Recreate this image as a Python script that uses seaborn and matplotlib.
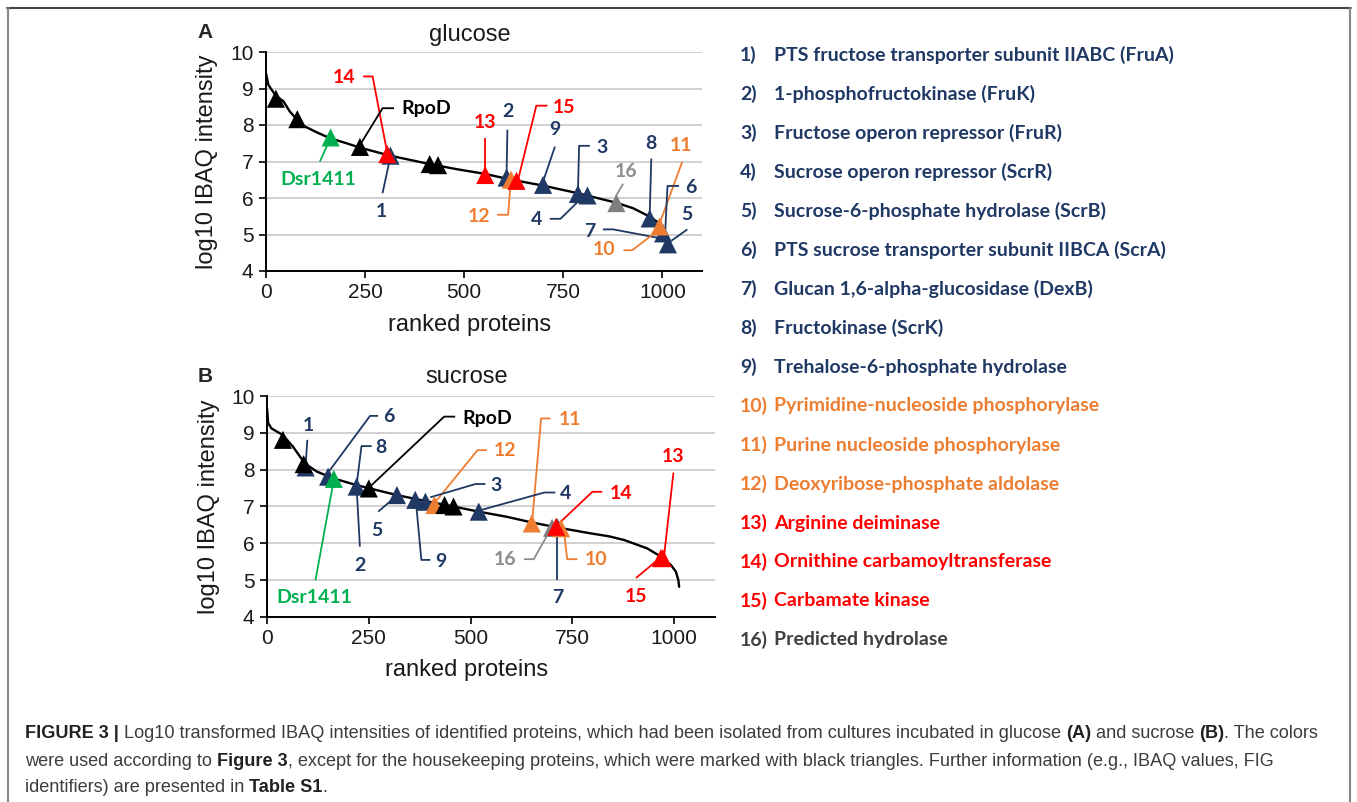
import matplotlib
matplotlib.use("Agg")
import matplotlib.pyplot as plt
import seaborn as sns
import pandas as pd
import numpy as np
from matplotlib.lines import Line2D

W, H = 1357, 802

# ---------------- data ----------------
# ranked-protein curves
glc_rank = [0, 6, 14, 25, 44, 60, 79, 98, 128, 161, 203, 237, 313, 413, 481, 553,
            615, 699, 787, 884, 926, 968, 992, 1002, 1010, 1012]
glc_log = [9.42, 9.10, 8.97, 8.80, 8.65, 8.37, 8.14, 7.96, 7.80, 7.64, 7.50, 7.38,
           7.16, 6.93, 6.79, 6.66, 6.51, 6.34, 6.13, 5.87, 5.72, 5.49, 5.31, 5.12,
           4.85, 4.67]
suc_rank = [0, 3, 11, 39, 64, 93, 122, 164, 220, 253, 319, 384, 458, 520, 589, 649,
            713, 795, 840, 877, 934, 967, 992, 1004, 1010, 1012]
suc_log = [9.67, 9.26, 9.12, 8.94, 8.62, 8.17, 7.95, 7.76, 7.58, 7.49, 7.31, 7.16,
           7.00, 6.86, 6.72, 6.57, 6.43, 6.27, 6.19, 6.09, 5.86, 5.64, 5.41, 5.23,
           5.00, 4.82]

# marked proteins (triangles)
glc_pt_rank = [25, 79, 237, 413, 434, 163, 306, 314, 553, 607, 618, 632, 699, 787,
               811, 884, 968, 993, 1002, 1014]
glc_pt_log = [8.72, 8.16, 7.40, 6.93, 6.90, 7.66, 7.20, 7.16, 6.63, 6.56, 6.50, 6.47,
              6.36, 6.11, 6.07, 5.86, 5.44, 5.22, 5.03, 4.73]
glc_pt_group = ["housekeeping", "housekeeping", "housekeeping", "housekeeping",
                "housekeeping", "Dsr1411", "arginine", "sugar", "arginine", "sugar",
                "nucleoside", "arginine", "sugar", "sugar", "sugar", "hydrolase",
                "sugar", "nucleoside", "sugar", "sugar"]

suc_pt_rank = [39, 90, 250, 436, 458, 95, 150, 220, 319, 364, 389, 520, 713, 164,
               411, 650, 722, 700, 710, 967, 972]
suc_pt_log = [8.81, 8.15, 7.49, 7.04, 7.00, 8.06, 7.81, 7.54, 7.31, 7.18, 7.13, 6.86,
              6.43, 7.75, 7.04, 6.54, 6.41, 6.42, 6.45, 5.60, 5.60]
suc_pt_group = ["housekeeping", "housekeeping", "housekeeping", "housekeeping",
                "housekeeping", "sugar", "sugar", "sugar", "sugar", "sugar", "sugar",
                "sugar", "sugar", "Dsr1411", "nucleoside", "nucleoside", "nucleoside",
                "hydrolase", "arginine", "arginine", "arginine"]

groups = ["sugar", "hydrolase", "nucleoside", "arginine", "Dsr1411", "housekeeping"]
group_colors = ["#1F3864", "#7F7F7F", "#ED7D31", "#FF0000", "#00B050", "#000000"]

legend_items = [
    ("1)", "PTS fructose transporter subunit IIABC (FruA)", "sugar"),
    ("2)", "1-phosphofructokinase (FruK)", "sugar"),
    ("3)", "Fructose operon repressor (FruR)", "sugar"),
    ("4)", "Sucrose operon repressor (ScrR)", "sugar"),
    ("5)", "Sucrose-6-phosphate hydrolase (ScrB)", "sugar"),
    ("6)", "PTS sucrose transporter subunit IIBCA (ScrA)", "sugar"),
    ("7)", "Glucan 1,6-alpha-glucosidase (DexB)", "sugar"),
    ("8)", "Fructokinase (ScrK)", "sugar"),
    ("9)", "Trehalose-6-phosphate hydrolase", "sugar"),
    ("10)", "Pyrimidine-nucleoside phosphorylase", "nucleoside"),
    ("11)", "Purine nucleoside phosphorylase", "nucleoside"),
    ("12)", "Deoxyribose-phosphate aldolase", "nucleoside"),
    ("13)", "Arginine deiminase", "arginine"),
    ("14)", "Ornithine carbamoyltransferase", "arginine"),
    ("15)", "Carbamate kinase", "arginine"),
    ("16)", "Predicted hydrolase", "legend16"),
]

# annotation labels: text, group, label position, leader path (data coords)
glc_labels = [
    ("14", "arginine", 197, 9.29, [(245, 9.33), (269, 9.33), (306, 7.23)]),
    ("RpoD", "housekeeping", 405, 8.44, [(323, 8.46), (294, 8.46), (237, 7.45)]),
    ("Dsr1411", "Dsr1411", 132, 6.50, [(136, 7.0), (161, 7.6)]),
    ("1", "sugar", 292, 5.63, [(294, 6.13), (314, 7.14)]),
    ("13", "arginine", 553, 8.08, [(553, 7.64), (553, 6.72)]),
    ("2", "sugar", 611, 8.37, [(609, 7.87), (607, 6.68)]),
    ("15", "arginine", 751, 8.49, [(710, 8.53), (682, 8.53), (636, 6.5)]),
    ("9", "sugar", 729, 7.87, [(729, 7.41), (699, 6.45)]),
    ("3", "sugar", 848, 7.38, [(817, 7.43), (790, 7.43), (787, 6.18)]),
    ("4", "sugar", 682, 5.40, [(716, 5.43), (743, 5.43), (787, 5.9)]),
    ("16", "label16", 909, 6.72, [(901, 6.39), (882, 6.04)]),
    ("8", "sugar", 972, 7.50, [(972, 7.08), (968, 5.5)]),
    ("11", "nucleoside", 1048, 7.43, [(1050, 6.99), (988, 5.15)]),
    ("6", "sugar", 1071, 6.29, [(1042, 6.33), (1013, 6.33), (1007, 5.05)]),
    ("5", "sugar", 1063, 5.55, [(1063, 5.14), (1023, 4.83)]),
    ("7", "sugar", 817, 5.08, [(850, 5.14), (876, 5.14), (1003, 4.88)]),
    ("10", "nucleoside", 853, 4.58, [(902, 4.57), (924, 4.57), (988, 5.1)]),
    ("12", "nucleoside", 538, 5.49, [(583, 5.54), (611, 5.54), (619, 6.68)]),
]
suc_labels = [
    ("1", "sugar", 101, 9.21, [(99, 8.81), (95, 8.13)]),
    ("6", "sugar", 298, 9.44, [(273, 9.46), (253, 9.46), (146, 7.86)]),
    ("8", "sugar", 280, 8.61, [(257, 8.64), (232, 8.64), (220, 7.58)]),
    ("RpoD", "housekeeping", 540, 9.39, [(462, 9.44), (435, 9.44), (253, 7.54)]),
    ("11", "nucleoside", 743, 9.35, [(696, 9.39), (673, 9.39), (651, 6.59)]),
    ("12", "nucleoside", 584, 8.51, [(540, 8.53), (517, 8.53), (411, 7.09)]),
    ("3", "sugar", 561, 7.58, [(536, 7.61), (512, 7.61), (401, 7.25)]),
    ("4", "sugar", 733, 7.34, [(708, 7.38), (681, 7.38), (524, 6.9)]),
    ("14", "arginine", 869, 7.36, [(823, 7.4), (799, 7.4), (713, 6.5)]),
    ("13", "arginine", 996, 8.35, [(998, 7.92), (975, 5.66)]),
    ("15", "arginine", 906, 4.55, [(906, 5.06), (965, 5.6)]),
    ("10", "nucleoside", 807, 5.55, [(762, 5.57), (737, 5.57), (729, 6.36)]),
    ("7", "sugar", 713, 4.53, [(713, 5.0), (713, 6.41)]),
    ("16", "label16", 585, 5.55, [(631, 5.57), (655, 5.57), (700, 6.45)]),
    ("9", "sugar", 427, 5.50, [(401, 5.55), (379, 5.55), (366, 7.09)]),
    ("2", "sugar", 228, 5.39, [(228, 5.91), (220, 7.54)]),
    ("5", "sugar", 269, 6.34, [(273, 6.86), (314, 7.25)]),
    ("Dsr1411", "Dsr1411", 115, 4.53, [(119, 5.0), (164, 7.72)]),
]

x_ticks = [0, 250, 500, 750, 1000]
y_ticks = [4, 5, 6, 7, 8, 9, 10]

caption_lines = [
    [("FIGURE 3 |", True), (" Log10 transformed IBAQ intensities of identified proteins, which had been isolated from cultures incubated in glucose ", False),
     ("(A)", True), (" and sucrose ", False), ("(B)", True), (". The colors", False)],
    [("were used according to ", False), ("Figure 3", True),
     (", except for the housekeeping proteins, which were marked with black triangles. Further information (e.g., IBAQ values, FIG", False)],
    [("identifiers) are presented in ", False), ("Table S1", True), (".", False)],
]

# ---------------- style ----------------
sns.set_theme(style="white")
plt.rcParams["font.family"] = ["Liberation Sans", "DejaVu Sans"]
LABEL_FONT = ["Lato", "DejaVu Sans"]
CAP_FONT = ["Liberation Sans", "DejaVu Sans"]

color_map = dict(zip(groups, group_colors))
color_map["label16"] = "#8C8C8C"
color_map["legend16"] = "#404040"

fig = plt.figure(figsize=(W / 100, H / 100), dpi=100)
axA = fig.add_axes([266 / W, 1 - 271 / H, 436 / W, 219 / H])
axB = fig.add_axes([267 / W, 1 - 617 / H, 448 / W, 221 / H])


def draw_panel(ax, cx, cy, px, py, pg, labels, title, title_pos, xl_pos, yl_pos):
    sns.lineplot(x=np.array(cx), y=np.array(cy), ax=ax, color="black", lw=1.7,
                 estimator=None, sort=False, zorder=2)
    df = pd.DataFrame({"rank": px, "log10": py, "group": pg})
    df["order"] = df["group"].map({g: i for i, g in enumerate(groups)})
    df = df.sort_values("order", kind="stable")
    sns.scatterplot(data=df, x="rank", y="log10", hue="group", hue_order=groups,
                    palette=group_colors, marker="^", s=170, linewidth=0,
                    legend=False, ax=ax, zorder=4)
    for txt, grp, tx, ty, path in labels:
        col = color_map[grp]
        xs = [p[0] for p in path]
        ys = [p[1] for p in path]
        ax.plot(xs, ys, color=col, lw=1.3, zorder=3, solid_capstyle="butt")
        ax.text(tx, ty, txt, color=col, fontsize=14, fontweight="bold",
                family=LABEL_FONT, ha="center", va="center", zorder=5)
    ax.set_xlim(0, 1100)
    ax.set_ylim(4, 10)
    ax.set_xticks(x_ticks)
    ax.set_yticks(y_ticks)
    ax.yaxis.grid(True, color="#d0d0d0", lw=1.4)
    ax.xaxis.grid(False)
    ax.set_axisbelow(True)
    for s in ["top", "right"]:
        ax.spines[s].set_visible(False)
    for s in ["left", "bottom"]:
        ax.spines[s].set_color("black")
        ax.spines[s].set_linewidth(1.4)
    ax.tick_params(axis="both", direction="out", length=5, width=1.2, color="black",
                   labelsize=15, labelcolor="#1a1a1a", left=True, bottom=True, pad=4)
    ax.set_xlabel("ranked proteins", fontsize=17, color="#1a1a1a", va="center")
    ax.set_ylabel("log10 IBAQ intensity", fontsize=17, color="#1a1a1a", va="center")
    ax.xaxis.set_label_coords(*xl_pos)
    ax.yaxis.set_label_coords(*yl_pos)
    ax.text(title_pos[0], title_pos[1], title, transform=ax.transAxes, fontsize=17,
            color="#1a1a1a", ha="center", va="center")


draw_panel(axA, glc_rank, glc_log, glc_pt_rank, glc_pt_log, glc_pt_group, glc_labels,
           "glucose", (0.468, 1.078), (0.468, -0.245), (-0.135, 0.5))
draw_panel(axB, suc_rank, suc_log, suc_pt_rank, suc_pt_log, suc_pt_group, suc_labels,
           "sucrose", (0.446, 1.086), (0.446, -0.24), (-0.13, 0.5))

# panel letters
fig.text(205 / W, 1 - 33 / H, "A", fontsize=15, fontweight="bold", ha="center", va="center")
fig.text(205 / W, 1 - 377 / H, "B", fontsize=15, fontweight="bold", ha="center", va="center")

# legend list on the right
for i, (num, name, grp) in enumerate(legend_items):
    y = 1 - (55 + i * 39.0) / H
    col = color_map[grp]
    fig.text(740 / W, y, num, color=col, fontsize=14, fontweight="bold",
             family=LABEL_FONT, ha="left", va="center")
    fig.text(774 / W, y, name, color=col, fontsize=14, fontweight="bold",
             family=LABEL_FONT, ha="left", va="center")

# caption with bold runs; size fitted so the first line spans the reference width
renderer = fig.canvas.get_renderer()


def draw_runs(runs, x0, ypix, size, visible=True):
    x = x0
    made = []
    for txt, bold in runs:
        t = fig.text(x / W, 1 - ypix / H, txt, fontsize=size, family=CAP_FONT,
                     fontweight="bold" if bold else "normal",
                     color="#222222" if bold else "#3c3c3c", ha="left", va="center")
        bb = t.get_window_extent(renderer)
        x = bb.x1
        made.append(t)
    if not visible:
        for t in made:
            t.remove()
    return x


probe = 12.0
end = draw_runs(caption_lines[0], 25.0, 733, probe, visible=False)
cap_size = probe * (1326 - 25) / (end - 25)
for li, runs in enumerate(caption_lines):
    draw_runs(runs, 25.0, [733, 761, 788][li], cap_size)

# outer frame
fig.add_artist(Line2D([7 / W, 1351 / W], [1 - 8 / H, 1 - 8 / H], transform=fig.transFigure,
                      color="#444444", lw=1.5))
fig.add_artist(Line2D([8 / W, 8 / W], [0, 1 - 8 / H], transform=fig.transFigure,
                      color="#888888", lw=1.5))
fig.add_artist(Line2D([1350 / W, 1350 / W], [0, 1 - 8 / H], transform=fig.transFigure,
                      color="#888888", lw=1.5))

fig.savefig("out.png", dpi=100)
